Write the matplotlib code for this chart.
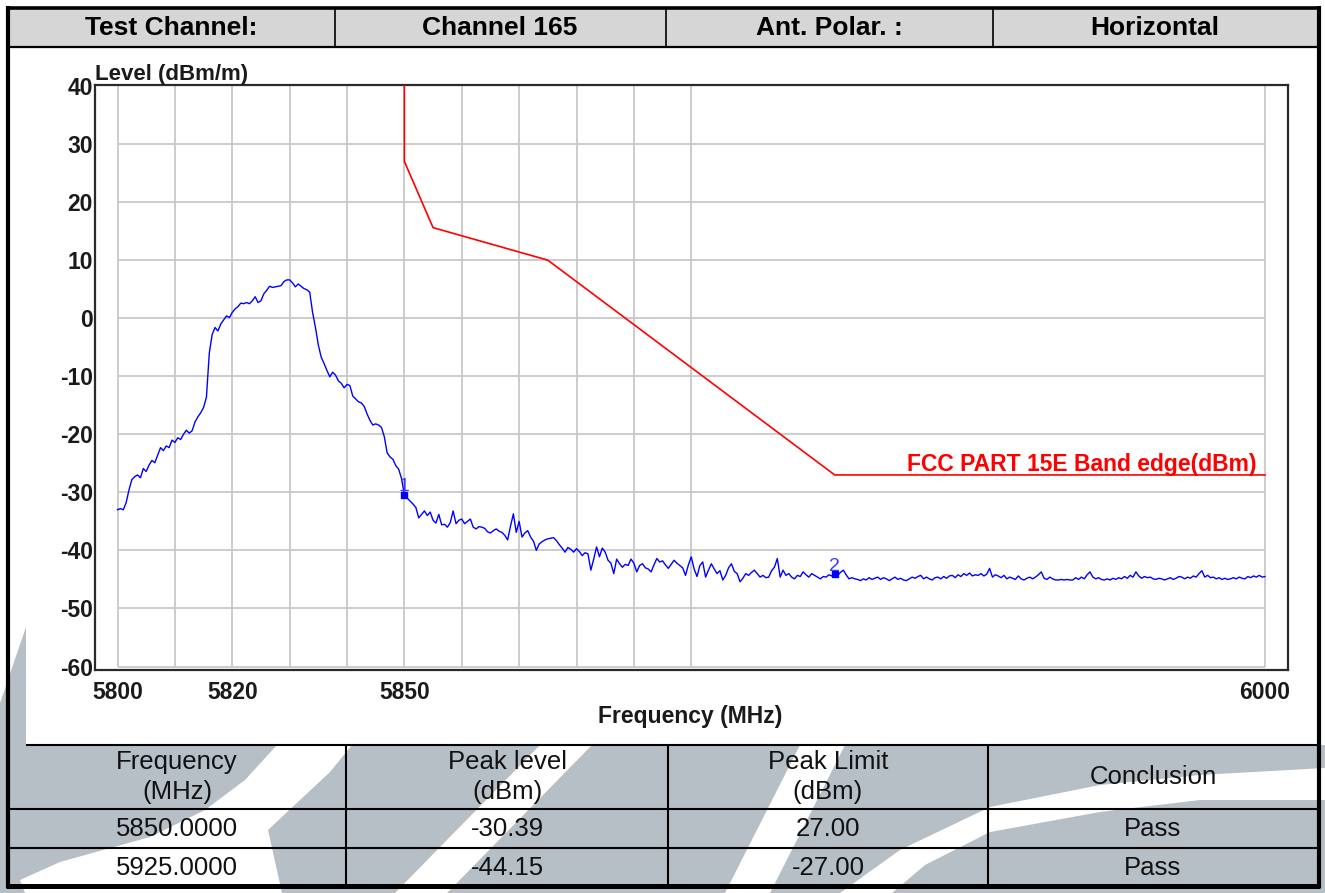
import numpy as np
import matplotlib.pyplot as plt
from matplotlib.patches import Polygon, Rectangle

plt.rcParams['font.family'] = ['Liberation Sans', 'DejaVu Sans']

W, H = 1325, 893

# measured sweep, 0.5 MHz steps
f_start, f_stop = 5800.0, 6000.0
level = [
    -33.0, -32.8, -33.0, -31.8, -29.6, -27.8, -27.3, -27.0, -27.5, -25.9,
    -26.4, -25.3, -24.5, -24.9, -23.6, -22.3, -22.8, -22.0, -22.3, -21.0,
    -21.4, -20.6, -20.9, -20.0, -19.3, -19.8, -19.4, -17.9, -17.0, -16.3,
    -15.4, -13.6, -6.0, -2.8, -1.6, -2.2, -1.0, -0.3, 0.4, 0.1,
    1.0, 1.6, 2.0, 2.6, 2.5, 2.7, 2.5, 3.0, 3.7, 2.7,
    3.0, 4.2, 4.8, 5.5, 5.3, 5.4, 5.5, 5.6, 6.3, 6.6,
    6.6, 6.1, 5.4, 5.9, 5.5, 5.1, 4.9, 4.5, 1.0, -1.6,
    -4.6, -6.7, -7.8, -9.0, -10.1, -9.3, -9.8, -10.8, -11.2, -12.0,
    -11.4, -11.6, -13.4, -13.9, -14.4, -14.6, -15.2, -16.5, -17.6, -18.4,
    -18.2, -18.4, -18.8, -20.4, -23.2, -23.9, -24.3, -25.4, -26.0, -27.6,
    -30.39, -31.0, -31.5, -32.0, -32.6, -34.4, -33.8, -33.2, -34.0, -33.4,
    -34.8, -35.3, -33.8, -35.6, -35.5, -36.0, -35.2, -33.2, -35.4, -34.8,
    -34.6, -35.4, -35.0, -34.6, -36.0, -36.3, -35.9, -36.0, -36.2, -36.8,
    -37.0, -36.6, -36.3, -36.7, -36.9, -37.4, -38.2, -35.8, -33.7, -36.9,
    -35.0, -37.7, -37.0, -36.6, -37.7, -38.4, -40.0, -38.9, -38.5, -38.2,
    -38.0, -37.9, -37.8, -38.3, -39.0, -39.6, -40.3, -39.5, -39.8, -40.3,
    -39.7, -40.2, -40.9, -40.4, -40.6, -43.4, -41.5, -39.4, -41.1, -39.6,
    -40.3, -41.7, -42.2, -44.0, -41.5, -42.3, -42.9, -42.4, -42.6, -41.5,
    -42.2, -43.7, -42.6, -42.3, -43.0, -43.2, -43.7, -42.5, -41.4, -42.0,
    -41.8, -42.5, -43.1, -42.4, -41.7, -42.2, -42.6, -43.0, -44.3, -42.5,
    -41.1, -43.2, -44.5, -42.6, -42.0, -44.6, -43.4, -42.3, -43.2, -44.0,
    -43.5, -45.1, -44.3, -43.0, -42.3, -43.6, -44.0, -45.4, -44.8, -44.0,
    -44.3, -43.8, -43.4, -44.0, -44.6, -44.3, -44.7, -44.6, -43.5, -42.9,
    -41.4, -44.6, -43.4, -44.3, -44.0, -44.6, -44.9, -44.3, -44.5, -43.7,
    -44.2, -44.6, -44.0, -44.3, -44.6, -44.9, -44.5, -44.6, -44.2, -44.4,
    -44.15, -44.3, -43.8, -43.4, -44.2, -44.9, -44.7, -44.9, -45.0, -45.2,
    -44.9, -45.1, -44.7, -45.0, -44.8, -44.6, -45.0, -44.7, -44.9, -45.2,
    -44.9, -44.6, -45.0, -44.8, -45.1, -45.2, -44.9, -44.6, -44.8, -44.5,
    -44.3, -44.9, -44.6, -44.9, -45.1, -44.7, -44.6, -44.9, -44.5, -44.8,
    -44.4, -44.3, -44.7, -44.2, -44.5, -44.0, -44.3, -43.9, -44.4, -44.2,
    -44.3, -44.0, -44.4, -44.1, -43.1, -44.6, -44.2, -44.4, -44.7, -44.3,
    -44.9, -44.6, -44.8, -45.0, -44.4, -44.9, -45.1, -44.8, -44.6, -44.9,
    -44.6, -44.2, -43.7, -44.8, -45.0, -44.6, -44.9, -45.1, -45.1, -45.0,
    -45.1, -45.0, -45.1, -45.1, -44.7, -45.0, -44.6, -44.9, -44.2, -43.7,
    -44.6, -44.9, -44.7, -45.0, -45.1, -44.9, -45.1, -44.8, -45.0, -44.7,
    -44.9, -44.5, -44.8, -44.3, -44.6, -43.7, -44.4, -44.8, -44.5, -44.7,
    -44.6, -44.9, -45.0, -44.8, -44.9, -45.1, -44.9, -44.7, -45.0, -44.8,
    -44.5, -44.6, -44.9, -44.6, -44.8, -44.4, -44.6, -44.0, -43.5, -44.6,
    -44.3, -44.7, -44.6, -44.9, -44.7, -45.0, -44.8, -45.0, -44.9, -44.7,
    -44.9, -44.6, -44.8, -44.9, -44.5, -44.7, -44.4, -44.6, -44.3, -44.6,
    -44.5,
]
freq = np.linspace(f_start, f_stop, len(level))

# FCC 15E band edge limit
limit_freq = [5850, 5850, 5855, 5875, 5925, 6000]
limit_level = [40, 27, 15.6, 10, -27, -27]
limit_name = 'FCC PART 15E Band edge(dBm)'

# marker results
marker_freq = [5850.0, 5925.0]
marker_level = [-30.39, -44.15]
marker_limit = [27.00, -27.00]
marker_result = ['Pass', 'Pass']

x_ticks = [5800, 5820, 5850, 6000]
y_ticks = [-60, -50, -40, -30, -20, -10, 0, 10, 20, 30, 40]
x_grid = [5800, 5810, 5820, 5830, 5840, 5850, 5860, 5870, 5880, 5890, 5900, 6000]

header = ['Test Channel:', 'Channel 165', 'Ant. Polar. :', 'Horizontal']
col_titles = ['Frequency\n(MHz)', 'Peak level\n(dBm)', 'Peak Limit\n(dBm)', 'Conclusion']

fig = plt.figure(figsize=(W / 100, H / 100), dpi=100)
fig.patch.set_facecolor('white')

# page layer in pixel coordinates
bg = fig.add_axes([0, 0, 1, 1])
bg.set_xlim(0, W)
bg.set_ylim(H, 0)
bg.axis('off')

wm = '#b6bec6'


def poly(pts, color, z):
    bg.add_patch(Polygon(pts, closed=True, facecolor=color, edgecolor='none', zorder=z))


# background logo stripes
poly([(0, 745), (W, 745), (W, H), (0, H)], wm, 0)
poly([(26, 627), (26, 745), (0, 745), (0, 703)], wm, 0)
poly([(277, 745), (352, 745), (330, 772), (300, 800), (268, 830), (282, 893), (25, 893),
      (20, 880), (60, 862), (150, 837), (205, 810), (245, 780)], 'white', 1)
poly([(540, 745), (592, 745), (447, 893), (395, 893)], 'white', 1)
poly([(800, 745), (845, 745), (770, 893), (725, 893)], 'white', 1)
poly([(840, 893), (900, 850), (990, 807), (1100, 785), (1200, 775), (1325, 768),
      (1325, 800), (1200, 800), (1100, 812), (990, 832), (925, 865), (892, 893)], 'white', 1)

# chart panel and header band
bg.add_patch(Rectangle((26, 47), 1292, 697, facecolor='white', edgecolor='none', zorder=2))
bg.add_patch(Rectangle((8, 8), 1310, 39, facecolor='#d6d6d6', edgecolor='none', zorder=2))

lk = dict(color='black', zorder=5, solid_capstyle='butt')
bg.plot([8, 1318], [47, 47], lw=1.6, **lk)
for x in [335, 666, 993]:
    bg.plot([x, x], [8, 47], lw=1.2, **lk)
bg.plot([26, 1318], [744.5, 744.5], lw=1.5, **lk)
bg.plot([8, 1318], [808.5, 808.5], lw=1.5, **lk)
bg.plot([8, 1318], [848, 848], lw=1.5, **lk)
for x in [345.5, 668, 988]:
    bg.plot([x, x], [744.5, 886], lw=1.5, **lk)
# outer frame
bg.plot([7.5, 7.5], [6, 888], lw=3.0, **lk)
bg.plot([1318.5, 1318.5], [6, 888], lw=3.0, **lk)
bg.plot([6, 1320], [8, 8], lw=2.6, **lk)
bg.plot([6, 1320], [886, 886], lw=3.6, **lk)

hx = [171, 500, 829, 1155]
for x, t in zip(hx, header):
    bg.text(x, 28, t, ha='center', va='center', fontsize=19, fontweight='bold',
            color='black', zorder=6)

cx = [177, 507, 828, 1153]
for x, t in zip(cx, col_titles):
    bg.text(x, 777, t, ha='center', va='center', fontsize=18.5, color='#111111',
            linespacing=1.3, zorder=6)
for i in range(len(marker_freq)):
    row = [f'{marker_freq[i]:.4f}', f'{marker_level[i]:.2f}',
           f'{marker_limit[i]:.2f}', marker_result[i]]
    yc = [829, 868][i]
    for x, t in zip(cx, row):
        bg.text(x, yc, t, ha='center', va='center', fontsize=18.5, color='#111111', zorder=6)

# spectrum plot
px_mhz = (1265 - 117.5) / 200.0
px_db = (666.5 - 86) / 100.0
ax = fig.add_axes([95 / W, (H - 670) / H, (1288 - 95) / W, (670 - 85) / H])
ax.set_zorder(3)
ax.set_facecolor('white')
ax.set_xlim(5800 - (117.5 - 95) / px_mhz, 6000 + (1288 - 1265) / px_mhz)
ax.set_ylim(-60 - (670 - 666.5) / px_db, 40 + (86 - 85) / px_db)

ax.vlines(x_grid, -60, 40, color='#c8c8c8', lw=1.3, zorder=1)
ax.hlines(y_ticks[:-1], 5800, 6000, color='#c8c8c8', lw=1.3, zorder=1)

ax.plot(limit_freq, limit_level, color='#ff0000', lw=1.2, zorder=3)
ax.plot(freq, level, color='#0000ff', lw=1.0, zorder=4)
ax.plot(marker_freq, marker_level, ls='none', marker='s', ms=4, color='#0000ff', zorder=5)
for i, (mf, ml) in enumerate(zip(marker_freq, marker_level)):
    ax.annotate(str(i + 1), (mf, ml), xytext=(0, 2.5), textcoords='offset points',
                ha='center', va='baseline', fontsize=14, color='#3a3aff', zorder=6)

ax.text(5998.6, -27 + 0.6, limit_name, ha='right', va='baseline', fontsize=16.5,
        fontweight='bold', color='#ff0000', zorder=6)

for s in ax.spines.values():
    s.set_color('#2a2a2a')
    s.set_linewidth(1.6)

ax.set_xticks(x_ticks)
ax.set_xticklabels([str(v) for v in x_ticks])
ax.set_yticks(y_ticks)
ax.set_yticklabels([str(v) for v in y_ticks])
ax.tick_params(length=0, labelsize=16.5, labelcolor='#1a1a1a')
ax.tick_params(axis='x', pad=8)
ax.tick_params(axis='y', pad=1.5)
for lab in ax.get_xticklabels() + ax.get_yticklabels():
    lab.set_fontweight('bold')

ax.set_xlabel('Frequency (MHz)', fontsize=16.5, fontweight='bold', color='#1a1a1a')
ax.xaxis.set_label_coords((690 - 95) / (1288 - 95), (670 - 705) / (670 - 85))
ax.text(0, 1.0, 'Level (dBm/m)', transform=ax.transAxes, ha='left', va='bottom',
        fontsize=16, fontweight='bold', color='#1a1a1a')

fig.savefig('out.png', dpi=100)
